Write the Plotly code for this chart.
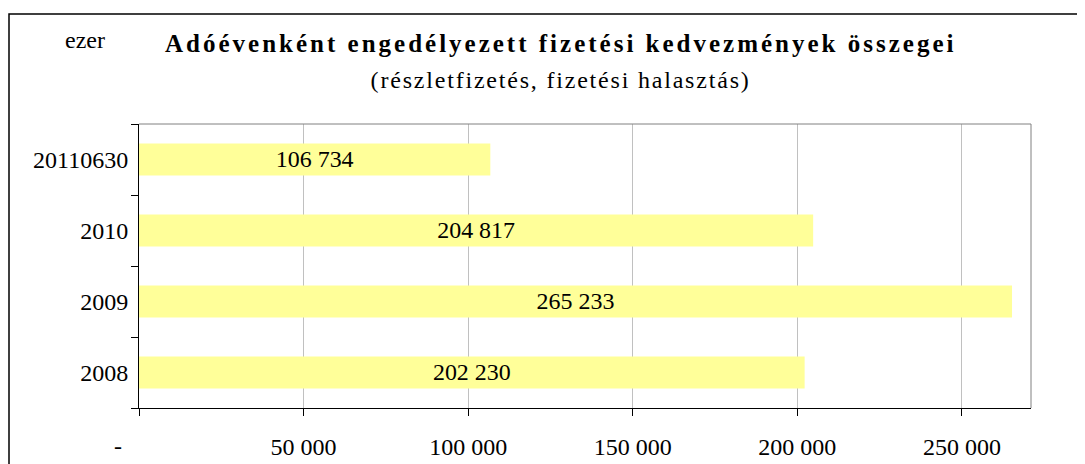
"""Adóévenként engedélyezett fizetési kedvezmények – horizontal bar chart."""

import plotly.graph_objects as go

# ----------------------------------------------------------------- data

YEARS = ["2008", "2009", "2010", "20110630"]
AMOUNTS = [202230, 265233, 204817, 106734]
X_TICKS = [0, 50000, 100000, 150000, 200000, 250000]
X_TICK_LABELS = ["", "50 000", "100 000", "150 000", "200 000", "250 000"]

TITLE = "Adóévenként engedélyezett fizetési kedvezmények összegei"
SUBTITLE = "(részletfizetés, fizetési halasztás)"
UNIT = "ezer"

# ----------------------------------------------------------------- style

FONT = "Liberation Serif, Times New Roman, serif"
BAR_COLOR = "#ffff99"
W, H = 1085, 464
PAGE = 8  # body margin of the html page
MARGIN = {"l": 139 - PAGE, "r": W - (1031 - PAGE), "t": 124 - PAGE, "b": H - (408 - PAGE)}

plot_w = W - MARGIN["l"] - MARGIN["r"]
plot_h = H - MARGIN["t"] - MARGIN["b"]


def px_x(px):
    """Screen pixel x -> paper x."""
    return (px - PAGE - MARGIN["l"]) / plot_w


def px_y(px):
    """Screen pixel y (from top) -> paper y."""
    return (H - MARGIN["b"] - (px - PAGE)) / plot_h


fig = go.Figure(
    go.Bar(
        x=AMOUNTS,
        y=YEARS,
        orientation="h",
        marker=dict(color=BAR_COLOR, line=dict(width=0)),
        texttemplate="%{x:,}",
        textposition="inside",
        insidetextanchor="middle",
        textfont=dict(family=FONT, size=24, color="#000000"),
        hovertemplate="%{y}: %{x:,}<extra></extra>",
    )
)

fig.update_layout(
    width=W,
    height=H,
    margin=MARGIN,
    paper_bgcolor="#ffffff",
    plot_bgcolor="#ffffff",
    separators=", ",
    bargap=0.55,
    showlegend=False,
    font=dict(family=FONT, color="#000000", size=24),
)

fig.update_xaxes(
    range=[0, 271000],
    tickvals=X_TICKS,
    ticktext=X_TICK_LABELS,
    showgrid=True,
    gridcolor="#c0c0c0",
    gridwidth=1,
    zeroline=False,
    showline=True,
    linecolor="#000000",
    linewidth=1,
    ticks="outside",
    ticklen=7,
    tickcolor="#000000",
    ticklabelstandoff=10,
    tickfont=dict(family=FONT, size=24, color="#000000"),
    automargin=False,
)

fig.update_yaxes(
    type="category",
    categoryorder="array",
    categoryarray=YEARS,
    showgrid=False,
    showline=True,
    linecolor="#000000",
    linewidth=1,
    ticks="outside",
    tickson="boundaries",
    ticklen=7,
    tickcolor="#000000",
    ticklabelstandoff=5,
    tickfont=dict(family=FONT, size=24, color="#000000"),
    automargin=False,
)

# grey top/right frame of the plot area
fig.add_shape(type="line", xref="paper", yref="paper", x0=0, x1=1, y0=1, y1=1,
              line=dict(color="#808080", width=1))
fig.add_shape(type="line", xref="paper", yref="paper", x0=1, x1=1, y0=0, y1=1,
              line=dict(color="#808080", width=1))

# outer chart border (runs off the right and bottom of the picture)
fig.add_shape(type="rect", xref="paper", yref="paper",
              x0=px_x(9), x1=px_x(1110), y0=px_y(490), y1=px_y(14),
              line=dict(color="#000000", width=1.5), layer="below")

# zero label shown as a dash, Excel-style, left of the origin
fig.add_annotation(x=px_x(118), y=px_y(446), xref="paper", yref="paper",
                   text="-", showarrow=False, xanchor="center", yanchor="middle",
                   font=dict(family=FONT, size=24, color="#000000"))

fig.add_annotation(x=px_x(560), y=px_y(44), xref="paper", yref="paper",
                   text=f"<b>{TITLE}</b>", showarrow=False,
                   xanchor="center", yanchor="middle",
                   font=dict(family=FONT, size=25, color="#000000"))
fig.add_annotation(x=px_x(560), y=px_y(80), xref="paper", yref="paper",
                   text=SUBTITLE, showarrow=False,
                   xanchor="center", yanchor="middle",
                   font=dict(family=FONT, size=24, color="#000000"))
fig.add_annotation(x=px_x(85), y=px_y(40), xref="paper", yref="paper",
                   text=UNIT, showarrow=False,
                   xanchor="center", yanchor="middle",
                   font=dict(family=FONT, size=24, color="#000000"))

# Excel spreads the title letters out; plotly has no letter-spacing option
SPACING_JS = """
var gd = document.getElementById('{plot_id}');
function spread() {
  gd.querySelectorAll('.annotation-text').forEach(function (t) {
    var s = t.textContent;
    if (s.indexOf('Adó') === 0) { t.style.letterSpacing = '3px'; }
    if (s.indexOf('(rész') === 0) { t.style.letterSpacing = '1.8px'; }
  });
}
spread();
gd.on('plotly_afterplot', spread);
"""

fig.write_html("out.html", post_script=SPACING_JS)
